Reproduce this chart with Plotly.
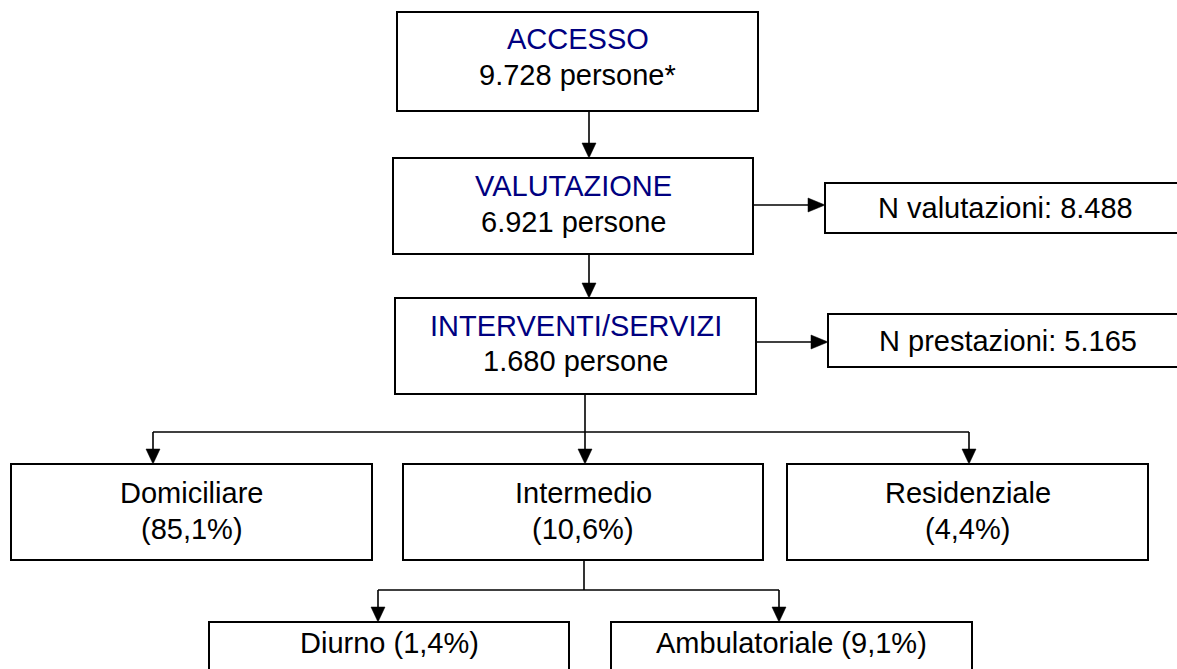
import plotly.graph_objects as go

# ---- content ----
titles = ["ACCESSO", "VALUTAZIONE", "INTERVENTI/SERVIZI"]
title_counts = ["9.728 persone*", "6.921 persone", "1.680 persone"]
side_labels = ["N valutazioni: 8.488", "N prestazioni: 5.165"]
setting_names = ["Domiciliare", "Intermedio", "Residenziale"]
setting_shares = ["(85,1%)", "(10,6%)", "(4,4%)"]
sub_labels = ["Diurno (1,4%)", "Ambulatoriale (9,1%)"]

# ---- geometry (pixels, y downward) ----
main_boxes = [(397, 12, 758, 111), (393, 158, 753, 254), (395, 298, 756, 394)]
main_text_y = [(38.5, 75), (185.5, 222), (325.5, 361)]
side_boxes = [(825, 183, 1190, 233), (828, 314, 1193, 367)]
side_text_x = [1005, 1008]
level3_boxes = [(11, 464, 372, 560), (403, 464, 763, 560), (787, 464, 1148, 560)]
level3_text_y = (492.5, 528.5)
level4_boxes = [(209, 622, 569, 720), (611, 622, 972, 720)]
level4_text_y = 643

W, H = 1177, 669
FONT = "Liberation Sans, Arial, sans-serif"
FS = 29
NAVY = "#000080"

fig = go.Figure()
shapes = []
annotations = []


def rect(b):
    shapes.append(dict(type="rect", x0=b[0], y0=b[1], x1=b[2], y1=b[3],
                       line=dict(color="black", width=2), fillcolor="white",
                       layer="below"))


def line(x0, y0, x1, y1):
    shapes.append(dict(type="line", x0=x0, y0=y0, x1=x1, y1=y1,
                       line=dict(color="black", width=1.6), layer="below"))


def head_down(x, ytip, w=14, h=15):
    shapes.append(dict(type="path",
                       path=f"M {x-w/2},{ytip-h} L {x+w/2},{ytip-h} L {x},{ytip} Z",
                       fillcolor="black", line=dict(color="black", width=0.5),
                       layer="above"))


def head_right(xtip, y, w=14, h=17):
    shapes.append(dict(type="path",
                       path=f"M {xtip-h},{y-w/2} L {xtip-h},{y+w/2} L {xtip},{y} Z",
                       fillcolor="black", line=dict(color="black", width=0.5),
                       layer="above"))


def text(x, y, s, color="black"):
    annotations.append(dict(x=x, y=y, xref="x", yref="y", text=s, showarrow=False,
                            xanchor="center", yanchor="middle",
                            font=dict(family=FONT, size=FS, color=color)))


# connectors
line(589, main_boxes[0][3], 589, main_boxes[1][1] - 8)
head_down(589, main_boxes[1][1])
line(589, main_boxes[1][3], 589, main_boxes[2][1] - 8)
head_down(589, main_boxes[2][1])
for mb, sb, yy in [(main_boxes[1], side_boxes[0], 205), (main_boxes[2], side_boxes[1], 342)]:
    line(mb[2], yy, sb[0] - 8, yy)
    head_right(sb[0], yy)
line(585, main_boxes[2][3], 585, 464 - 8)
line(153, 432, 969, 432)
for x in [153, 585, 969]:
    if x != 585:
        line(x, 432, x, 464 - 8)
    head_down(x, 464)
line(584, 560, 584, 590)
line(378, 590, 779, 590)
for x in [378, 779]:
    line(x, 590, x, 622 - 8)
    head_down(x, 622)

# boxes + text
for b, t, c, (y1, y2) in zip(main_boxes, titles, title_counts, main_text_y):
    rect(b)
    cx = (b[0] + b[2]) / 2
    text(cx, y1, t, NAVY)
    text(cx, y2, c)

for b, s, x in zip(side_boxes, side_labels, side_text_x):
    rect(b)
    text(x, (b[1] + b[3]) / 2, s)

for b, n, p in zip(level3_boxes, setting_names, setting_shares):
    rect(b)
    cx = (b[0] + b[2]) / 2
    text(cx, level3_text_y[0], n)
    text(cx, level3_text_y[1], p)

for b, s in zip(level4_boxes, sub_labels):
    rect(b)
    text((b[0] + b[2]) / 2, level4_text_y, s)

fig.update_layout(
    width=W, height=H,
    margin=dict(l=0, r=0, t=0, b=0),
    paper_bgcolor="white", plot_bgcolor="white",
    xaxis=dict(range=[0, W], visible=False, fixedrange=True),
    yaxis=dict(range=[H, 0], visible=False, fixedrange=True),
    shapes=shapes, annotations=annotations, showlegend=False,
)

fig.write_html("out.html", config={"displayModeBar": False},
               post_script="document.body.style.margin='0';document.body.style.overflow='hidden';")
